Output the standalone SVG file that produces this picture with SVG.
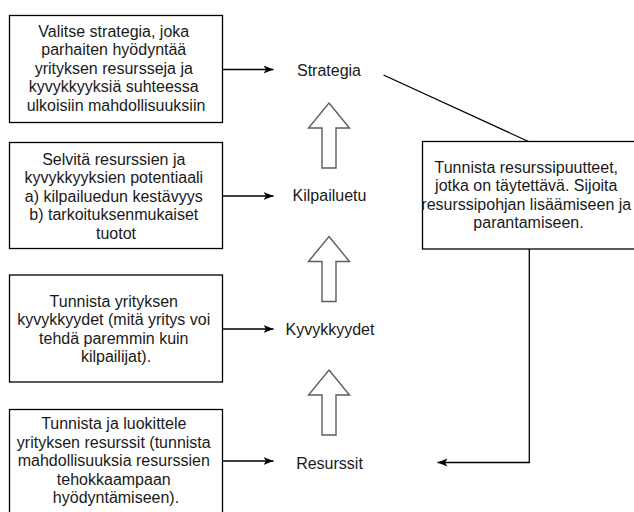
<svg xmlns="http://www.w3.org/2000/svg" xmlns:xlink="http://www.w3.org/1999/xlink" width="634" height="512" viewBox="0 0 634 512">
  <style>
    .box { fill: #ffffff; stroke: #000000; stroke-width: 1.3; }
    .txt { font-family: "Liberation Sans", Arial, Helvetica, sans-serif; font-size: 16px; fill: #1a1a1a; text-anchor: middle; }
    .edge { fill: none; stroke: #000000; stroke-width: 1.3; }
    .up { fill: #ffffff; stroke: #5c5c5c; stroke-width: 1.4; stroke-linejoin: miter; }
  </style>
  <defs>
    <marker id="head" markerUnits="userSpaceOnUse" markerWidth="12" markerHeight="10" refX="10" refY="4" orient="auto">
      <path d="M0,0 L10,4 L0,8 L2.5,4 Z" fill="#000000"/>
    </marker>
    <!-- hollow upward block arrow, tip at origin -->
    <path id="upArrow" class="up" d="M0,0 L20.5,25 L7,25 L7,65 L-7,65 L-7,25 L-20.5,25 Z"/>
  </defs>

  <!-- right-hand column of stages -->
  <g id="strategia">
    <text class="txt" x="329" y="75.5">Strategia</text>
  </g>
  <g id="kilpailuetu">
    <text class="txt" x="329.5" y="201">Kilpailuetu</text>
  </g>
  <g id="kyvykkyydet">
    <text class="txt" x="330" y="334.5">Kyvykkyydet</text>
  </g>
  <g id="resurssit">
    <text class="txt" x="329.5" y="468.5">Resurssit</text>
  </g>

  <!-- left-hand description boxes -->
  <g id="box-strategia">
    <rect class="box" x="9.5" y="15.5" width="213" height="107"/>
    <text class="txt">
      <tspan x="116" y="36.5">Valitse strategia, joka</tspan>
      <tspan x="116" y="55">parhaiten hyödyntää</tspan>
      <tspan x="116" y="73.5">yrityksen resursseja ja</tspan>
      <tspan x="116" y="92">kyvykkyyksiä suhteessa</tspan>
      <tspan x="116" y="110.5">ulkoisiin mahdollisuuksiin</tspan>
    </text>
  </g>
  <g id="box-kilpailuetu">
    <rect class="box" x="9.5" y="142.5" width="213" height="106"/>
    <text class="txt">
      <tspan x="116" y="164.5">Selvitä resurssien ja</tspan>
      <tspan x="116" y="183">kyvykkyyksien potentiaali</tspan>
      <tspan x="116" y="201.5">a) kilpailuedun kestävyys</tspan>
      <tspan x="116" y="220">b) tarkoituksenmukaiset</tspan>
      <tspan x="116" y="238.5">tuotot</tspan>
    </text>
  </g>
  <g id="box-kyvykkyydet">
    <rect class="box" x="9.5" y="275" width="213" height="107"/>
    <text class="txt">
      <tspan x="116" y="306.5">Tunnista yrityksen</tspan>
      <tspan x="116" y="325">kyvykkyydet (mitä yritys voi</tspan>
      <tspan x="116" y="343.5">tehdä paremmin kuin</tspan>
      <tspan x="116" y="362">kilpailijat).</tspan>
    </text>
  </g>
  <g id="box-resurssit">
    <rect class="box" x="9.5" y="409.5" width="213" height="108"/>
    <text class="txt">
      <tspan x="116" y="429">Tunnista ja luokittele</tspan>
      <tspan x="116" y="447.5">yrityksen resurssit (tunnista</tspan>
      <tspan x="116" y="466">mahdollisuuksia resurssien</tspan>
      <tspan x="116" y="484.5">tehokkaampaan</tspan>
      <tspan x="116" y="503">hyödyntämiseen).</tspan>
    </text>
  </g>

  <!-- resource gap box on the right -->
  <g id="box-puutteet">
    <rect class="box" x="422.5" y="141.5" width="213" height="107.5"/>
    <text class="txt">
      <tspan x="528.5" y="172.5">Tunnista resurssipuutteet,</tspan>
      <tspan x="528.5" y="191">jotka on täytettävä. Sijoita</tspan>
      <tspan x="528.5" y="209.5">resurssipohjan lisäämiseen ja</tspan>
      <tspan x="528.5" y="228">parantamiseen.</tspan>
    </text>
  </g>

  <!-- hollow block arrows between stages -->
  <g id="block-arrows">
    <use xlink:href="#upArrow" x="329" y="103"/>
    <use xlink:href="#upArrow" x="329" y="236.5"/>
    <use xlink:href="#upArrow" x="329" y="370"/>
  </g>

  <!-- connectors -->
  <g id="connectors">
    <line class="edge" x1="222.5" y1="69.5" x2="273.5" y2="69.5" marker-end="url(#head)"/>
    <line class="edge" x1="222.5" y1="196" x2="273.5" y2="196" marker-end="url(#head)"/>
    <line class="edge" x1="222.5" y1="329" x2="273.5" y2="329" marker-end="url(#head)"/>
    <line class="edge" x1="222.5" y1="461" x2="273.5" y2="461" marker-end="url(#head)"/>
    <line class="edge" x1="383.5" y1="75" x2="528.5" y2="141.5"/>
    <polyline class="edge" points="529.3,249 529.3,462.5 437.5,462.5" marker-end="url(#head)"/>
  </g>
</svg>
